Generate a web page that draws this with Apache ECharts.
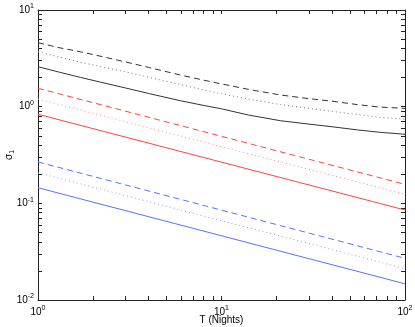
<!DOCTYPE html>
<html>
<head>
<meta charset="utf-8">
<script src="https://cdn.jsdelivr.net/npm/echarts@6/dist/echarts.min.js"></script>
<style>
  html, body { margin: 0; padding: 0; background: #fff; }
  #chart { width: 415px; height: 327px; }
</style>
</head>
<body>
<div id="chart"></div>
<script>
// curved (black) lines
const nights = [1, 1.3, 1.7, 2.2, 3, 4, 6, 8, 10, 14, 21, 30, 40, 55, 73, 100];
const blackSolid = [2.59, 2.28, 2.01, 1.79, 1.56, 1.37, 1.15, 1.03, 0.95, 0.82, 0.715, 0.66, 0.62, 0.575, 0.543, 0.518];
const blackDashed = [4.59, 4.08, 3.70, 3.32, 2.90, 2.55, 2.12, 1.88, 1.72, 1.51, 1.32, 1.21, 1.14, 1.05, 0.99, 0.96];
const blackDotted = [3.71, 3.27, 2.88, 2.60, 2.29, 2.02, 1.69, 1.49, 1.36, 1.20, 1.05, 0.96, 0.895, 0.83, 0.776, 0.745];

// straight lines on log-log, ends only
const ends = [1, 100];
const redSolid = [0.834, 0.0853];
const redDashed = [1.55, 0.157];
const redDotted = [1.20, 0.124];
const blueSolid = [0.145, 0.0147];
const blueDashed = [0.268, 0.027];
const blueDotted = [0.207, 0.0211];

const xTicks = [1, 2, 3, 4, 5, 6, 7, 8, 9, 10, 20, 30, 40, 50, 60, 70, 80, 90, 100];
const xLabels = [1, 10, 100];
const yTicks = [0.01, 0.02, 0.03, 0.04, 0.05, 0.06, 0.07, 0.08, 0.09,
  0.1, 0.2, 0.3, 0.4, 0.5, 0.6, 0.7, 0.8, 0.9,
  1, 2, 3, 4, 5, 6, 7, 8, 9, 10];
const yLabels = [0.01, 0.1, 1, 10];

const font = 'Liberation Sans';
const axisCol = '#222';

function pairs(xs, ys) {
  return xs.map((x, i) => [x, ys[i]]);
}

function powLabel(v) {
  const e = Math.round(Math.log10(v));
  return '{b|10}{s|' + e + '}';
}

const rich = {
  b: { fontFamily: font, fontSize: 10, color: '#000' },
  s: { fontFamily: font, fontSize: 7, color: '#000', verticalAlign: 'bottom', padding: [0, 0, 7, 0] }
};

function xAx(pos, show) {
  return {
    type: 'log', logBase: 10, min: 1, max: 100, position: pos,
    name: show ? 'T (Nights)' : '',
    nameLocation: 'middle', nameGap: 15, nameMoveOverlap: false,
    nameTextStyle: { fontFamily: font, fontSize: 10, color: '#000' },
    axisLine: { show: true, onZero: false, lineStyle: { color: axisCol, width: 1 } },
    axisTick: { show: true, inside: true, length: 4, customValues: xTicks, lineStyle: { color: axisCol } },
    axisLabel: { show: show, customValues: xLabels, formatter: powLabel, rich: rich, margin: 5 },
    splitLine: { show: false },
    minorTick: { show: false }
  };
}

function yAx(pos, show) {
  return {
    type: 'log', logBase: 10, min: 0.01, max: 10, position: pos,
    name: show ? '{a|σ}{sub|1}' : '',
    nameLocation: 'middle', nameGap: 22, nameRotate: 90, nameMoveOverlap: false,
    nameTextStyle: {
      rich: {
        a: { fontFamily: font, fontSize: 10, color: '#000' },
        sub: { fontFamily: font, fontSize: 7, color: '#000', verticalAlign: 'top', padding: [6, 0, 0, 0] }
      }
    },
    axisLine: { show: true, onZero: false, lineStyle: { color: axisCol, width: 1 } },
    axisTick: { show: true, inside: true, length: 4, customValues: yTicks, lineStyle: { color: axisCol } },
    axisLabel: { show: show, customValues: yLabels, formatter: powLabel, rich: rich, margin: 4 },
    splitLine: { show: false },
    minorTick: { show: false }
  };
}

function line(name, data, color, type) {
  return {
    name: name, type: 'line', data: data, symbol: 'none', smooth: false,
    lineStyle: { color: color, width: 1, type: type },
    silent: true, animation: false
  };
}

const dashed = [6, 4];
const dotted = [1, 3];
const black = '#333';
const red = '#ff4444';
const blue = '#5a72ff';

const chart = echarts.init(document.getElementById('chart'));
chart.setOption({
  backgroundColor: '#fff',
  animation: false,
  grid: { left: 38, right: 10, top: 10, bottom: 27, containLabel: false, outerBoundsMode: 'none' },
  xAxis: [xAx('bottom', true), xAx('top', false)],
  yAxis: [yAx('left', true), yAx('right', false)],
  series: [
    line('black dashed', pairs(nights, blackDashed), black, dashed),
    line('black dotted', pairs(nights, blackDotted), '#777', dotted),
    line('black solid', pairs(nights, blackSolid), black, 'solid'),
    line('red dashed', pairs(ends, redDashed), red, dashed),
    line('red dotted', pairs(ends, redDotted), '#ff8888', dotted),
    line('red solid', pairs(ends, redSolid), red, 'solid'),
    line('blue dashed', pairs(ends, blueDashed), blue, dashed),
    line('blue dotted', pairs(ends, blueDotted), '#8899ff', dotted),
    line('blue solid', pairs(ends, blueSolid), blue, 'solid')
  ]
});
</script>
</body>
</html>
